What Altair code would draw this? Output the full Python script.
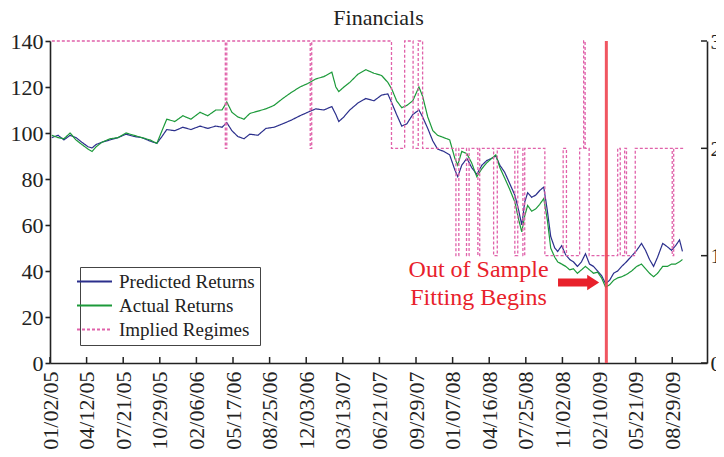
import json
import altair as alt
import pandas as pd

# ---------------- data ----------------
# calendar days after 01/02/05
days = [5, 22, 38, 55, 71, 87, 104, 115, 126, 142,
        164, 186, 208, 229, 251, 273, 292, 306, 319, 341,
        363, 385, 410, 431, 453, 470, 483, 497, 513, 530,
        546, 568, 590, 612, 636, 658, 683, 704, 726, 748,
        770, 781, 789, 803, 819, 841, 863, 885, 906, 923,
        934, 947, 961, 975, 991, 1008, 1018, 1032, 1046, 1059,
        1076, 1092, 1106, 1114, 1125, 1139, 1152, 1166, 1180, 1193,
        1207, 1218, 1229, 1242, 1256, 1270, 1281, 1289, 1297, 1305,
        1316, 1327, 1338, 1349, 1359, 1368, 1379, 1387, 1398, 1409,
        1420, 1430, 1441, 1452, 1463, 1474, 1485, 1496, 1507, 1518,
        1529, 1540, 1551, 1562, 1575, 1589, 1603, 1616, 1627, 1638,
        1649, 1660, 1674, 1687, 1698, 1709, 1720, 1728]

predicted = [98, 99, 97, 99, 98, 96, 94, 93.5, 95, 96,
             97, 98, 99.5, 98.5, 98, 96.5, 95.5, 98.5, 101.5, 101,
             102.5, 101.5, 103, 102, 103, 102.5, 104.5, 101, 98.5, 97.5,
             99.5, 99, 102, 102.5, 104, 105.5, 107.5, 109, 110.5, 110,
             111.5, 108, 105, 107, 110, 113, 115, 114, 116.5, 117,
             113, 108, 103, 104, 108, 110, 107, 102, 96.5, 93,
             92, 90.5, 84, 81, 86, 89, 85, 82, 86, 88,
             89, 90, 86, 83, 78, 73, 66, 60, 70, 74,
             72, 73, 75, 76.5, 66, 55, 50, 48.5, 51, 47,
             45, 44, 42, 44, 47.5, 43, 42, 40, 38, 34.5,
             36, 39, 40, 42, 44, 46.5, 49, 52, 49, 45,
             42, 46, 52, 50.5, 49, 51, 53.5, 48.5]

actual = [99, 98, 97.5, 100, 97, 95, 93, 92, 94, 96,
          97.5, 98, 100, 99, 98, 97, 95.5, 101, 106, 105,
          107.5, 106, 109, 107.5, 110, 110, 113.5, 109, 107, 106,
          108.5, 109.5, 110.5, 112, 115, 117.5, 120, 121.5, 123.5, 124.5,
          126.5, 120, 118, 120, 122, 125.5, 127.5, 126, 125, 122,
          119, 114, 111, 112, 114, 120, 116, 107, 101, 99,
          98, 97, 89, 86, 92, 91, 87, 81, 84.5, 87,
          89, 90.5, 85, 80.5, 75.5, 70, 62, 57, 64, 68.5,
          66, 67, 69, 71.5, 62, 50, 46, 44, 43, 42,
          40.5, 41, 39, 40.5, 42, 40.5, 39, 39.5, 37, 33,
          34, 36, 37, 37.5, 38.5, 40, 42, 43, 41, 39,
          37.5, 39, 42, 42, 43, 43, 44, 45]

# implied regime (right axis), value holds from each day until the next one
reg_days = [5, 479, 483, 711, 715, 933, 969, 992, 1006, 1018,
            1109, 1117, 1138, 1145, 1169, 1174, 1212, 1222, 1270, 1278,
            1292, 1297, 1352, 1402, 1411, 1447, 1458, 1462, 1473, 1551,
            1558, 1570, 1575, 1599, 1700, 1704, 1731]
reg_vals = [3, 2, 3, 2, 3, 2, 3, 2, 3, 2,
            1, 2, 1, 2, 1, 2, 1, 2, 1, 2,
            1, 2, 1, 2, 1, 2, 3, 2, 1, 2,
            1, 2, 1, 2, 1, 2, 2]

tick_days = [0, 100, 200, 300, 400, 500, 600, 700, 800, 900,
             1000, 1100, 1200, 1300, 1400, 1500, 1600, 1700]
tick_labels = ["01/02/05", "04/12/05", "07/21/05", "10/29/05", "02/06/06",
               "05/17/06", "08/25/06", "12/03/06", "03/13/07", "06/21/07",
               "09/29/07", "01/07/08", "04/16/08", "07/25/08", "11/02/08",
               "02/10/09", "05/21/09", "08/29/09"]
y_ticks = [0, 20, 40, 60, 80, 100, 120, 140]
reg_ticks = [0, 1, 2, 3]

SERIES = ["Predicted Returns", "Actual Returns", "Implied Regimes"]
COLORS = ["#2b2f8c", "#1c9a3a", "#e062aa"]
DASHES = [[1, 0], [1, 0], [3, 2]]

oos_day = [1520]                       # out-of-sample start
arrow_day, arrow_day2, arrow_val = [1388], [1478], [35.0]
arrow_head_day = [1484]
note_day, note_val = [1171], [37.4]
note_text = ["Out of Sample\nFitting Begins"]

assert len(days) == len(predicted) == len(actual)
assert len(reg_days) == len(reg_vals)

# ---------------- chart ----------------
W, H = 657, 322
FONT = "Liberation Serif"
INK = "#222222"
RED = "#e8212b"

n = len(days)
lines_df = pd.DataFrame({
    "day": days * 2,
    "value": predicted + actual,
    "series": [SERIES[0]] * n + [SERIES[1]] * n,
})
reg_df = pd.DataFrame({"day": reg_days, "regime": reg_vals, "series": SERIES[2]})

xscale = alt.Scale(domain=[0, 1795], nice=False, zero=False)
yscale = alt.Scale(domain=[0, 140], nice=False, zero=False)
rscale = alt.Scale(domain=[0, 3], nice=False, zero=False)

label_expr = json.dumps(tick_labels) + "[round(datum.value / 100)]"

xaxis = alt.Axis(values=tick_days, labelExpr=label_expr, labelAngle=270,
                 ticks=False, labelPadding=8, grid=False, title=None,
                 labelFontSize=22, labelOverlap=False, labelFlush=False)
yaxis = alt.Axis(values=y_ticks, tickSize=5, labelPadding=2, grid=False,
                 title=None, labelFontSize=22)
raxis = alt.Axis(orient="right", values=reg_ticks, format="d", ticks=False,
                 labelPadding=3, grid=False, title=None, labelFontSize=22)

X = alt.X("day:Q", scale=xscale, axis=xaxis)
Y = alt.Y("value:Q", scale=yscale, axis=yaxis)
R = alt.Y("regime:Q", scale=rscale, axis=raxis)

legend = alt.Legend(title=None, orient="none", legendX=30, legendY=226,
                    direction="vertical", symbolType="M-2.5,0H2.5", symbolSize=196,
                    symbolStrokeWidth=2, labelFontSize=19, labelFont=FONT,
                    labelColor=INK, padding=5, strokeColor="#444444",
                    fillColor="white", rowPadding=4, labelOffset=15)

color = alt.Color("series:N", scale=alt.Scale(domain=SERIES, range=COLORS), legend=legend)
dash = alt.StrokeDash("series:N", scale=alt.Scale(domain=SERIES, range=DASHES), legend=legend)

lines = alt.Chart(lines_df).mark_line(strokeWidth=1.2).encode(
    x=X, y=Y, color=color, strokeDash=dash)

bottom_ticks = alt.Chart(pd.DataFrame({"day": tick_days})).mark_rule(
    color=INK, strokeWidth=1.5).encode(
    x=X, y=alt.value(H), y2=alt.value(H - 6))

arrow_body = alt.Chart(pd.DataFrame({"day": arrow_day, "day2": arrow_day2, "value": arrow_val})).mark_rule(
    color=RED, strokeWidth=8, strokeCap="butt").encode(
    x=X, x2="day2:Q", y=Y)

arrow_head = alt.Chart(pd.DataFrame({"day": arrow_head_day, "value": arrow_val})).mark_point(
    shape="M-1,-1.3L1,0L-1,1.3Z", filled=True, size=144, color=RED, opacity=1).encode(
    x=X, y=Y)

note = alt.Chart(pd.DataFrame({"day": note_day, "value": note_val, "text": note_text})).mark_text(
    font=FONT, fontSize=24, color=RED, align="center", baseline="alphabetic",
    lineBreak="\n", lineHeight=28).encode(
    x=X, y=Y, text="text:N")

regimes = alt.Chart(reg_df).mark_line(interpolate="step-after", strokeWidth=1.3).encode(
    x=X, y=R, color=color, strokeDash=dash)

right_ticks = alt.Chart(pd.DataFrame({"regime": reg_ticks})).mark_rule(
    color=INK, strokeWidth=1.5).encode(
    y=R, x=alt.value(W - 6), x2=alt.value(W))

oos_rule = alt.Chart(pd.DataFrame({"day": oos_day})).mark_rule(
    color="#ee4450", strokeWidth=3, opacity=0.9).encode(x=X)

left = alt.layer(lines, bottom_ticks, note, arrow_body, arrow_head)
right = alt.layer(regimes, right_ticks, oos_rule)

chart = alt.layer(left, right).resolve_scale(y="independent").properties(
    width=W, height=H,
    title=alt.Title("Financials", font=FONT, fontSize=22, fontWeight="normal",
                    color=INK, anchor="middle", offset=0),
    autosize=alt.AutoSizeParams(type="none"),
    padding={"left": 42, "top": 33, "right": 9, "bottom": 88},
).configure_view(stroke=None).configure_axis(
    labelFont=FONT, labelColor=INK, domainColor=INK, domainWidth=1.6,
    tickColor=INK, tickWidth=1.6,
)

chart.save("out.html", embed_options={"renderer": "svg", "actions": False})
